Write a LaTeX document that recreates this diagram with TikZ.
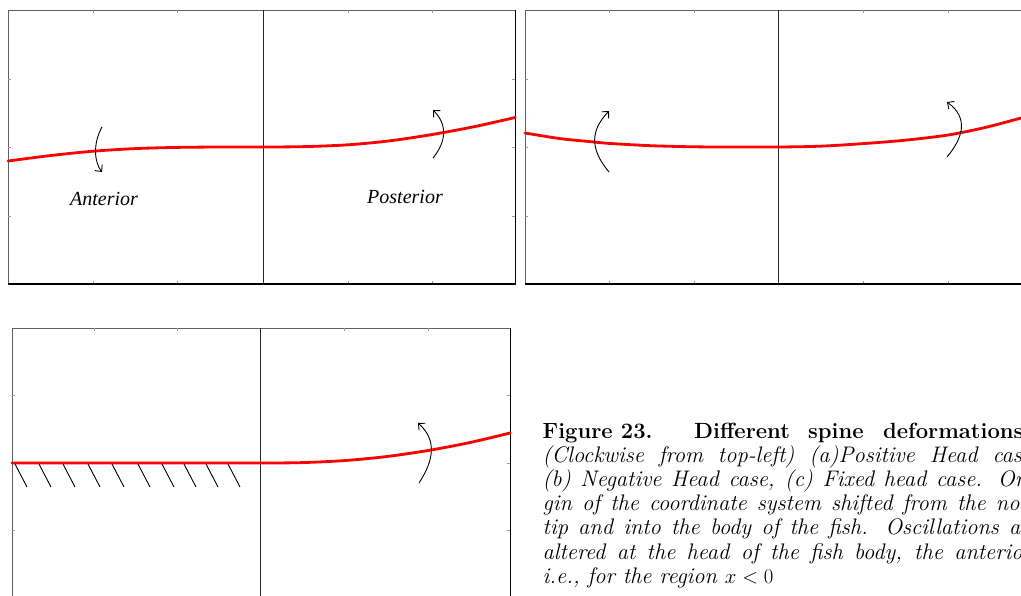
\documentclass[tikz,border=0pt]{standalone}
\usepackage{fontspec}
\newfontfamily\timesfont{Liberation Serif}
\usetikzlibrary{arrows.meta}
\begin{document}
\begin{tikzpicture}[x=1pt,y=-1pt,
  frame/.style={draw=black!62, line width=0.8pt},
  axisline/.style={draw=black, line width=1.3pt},
  midline/.style={draw=black!85, line width=0.9pt},
  tick/.style={draw=black!40, line width=0.8pt},
  spine/.style={draw=red, line width=2.8pt, line cap=round},
  flex/.style={draw=black, line width=0.9pt, -{Straight Barb[length=5pt,width=9.5pt,line width=0.9pt]}},
  hatchline/.style={draw=black, line width=0.9pt},
  lbl/.style={font=\timesfont\itshape\fontsize{20}{22}\selectfont, inner sep=0pt},
  capbold/.style={anchor=base west, inner sep=0pt, font=\fontsize{22}{24.2}\selectfont\bfseries},
  capline/.style={anchor=base west, inner sep=0pt, font=\fontsize{22.5}{24.2}\selectfont\itshape}
]
\useasboundingbox (0,0) rectangle (1021,595);
\fill[white] (0,0) rectangle (1021,595);

% ---------- Panel A ----------
\draw[frame] (8,284) -- (8,10) -- (515,10);
\draw[draw=black, line width=0.9pt] (515,10) -- (515,284);
\foreach \x in {93,177,348,432} {\draw[tick] (\x,10) -- (\x,13); \draw[tick] (\x,284) -- (\x,281);}
\foreach \y in {79,147,216} {\draw[tick] (8,\y) -- (11,\y); \draw[tick] (515,\y) -- (512,\y);}
\draw[midline] (263,10) -- (263,284);
\draw[axisline] (7.5,284) -- (515.5,284);
\draw[spine] plot[smooth] coordinates {(8,161) (50,155.6) (93,151.2) (135,148.6) (177,147.4) (220,147) (263,147) (305,146.6) (348,144.8) (390,140.8) (432,134.5) (475,126.5) (515,117.5)};
\draw[flex] (102,127) .. controls (93,143) and (94,162) .. (102,172);
\draw[flex] (433,158) .. controls (446,142) and (448,125) .. (433,110);
\node[lbl] (ant) at (104,199) {Anterior};
\node[lbl] (post) at (405,197) {Posterior};

% ---------- Panel B ----------
\draw[frame] (525,284) -- (525,10) -- (1025,10);
\foreach \x in {609,694,863,948} {\draw[tick] (\x,10) -- (\x,13); \draw[tick] (\x,284) -- (\x,281);}
\foreach \y in {79,147,216} {\draw[tick] (525,\y) -- (528,\y);}
\draw[midline] (778,10) -- (778,284);
\draw[axisline] (524.5,284) -- (1025,284);
\draw[spine] plot[smooth] coordinates {(525,133) (560,138.6) (593,141.9) (609,143.4) (651,145.7) (694,146.8) (736,147) (778,147) (820,146.2) (863,143.6) (905,140.2) (948,135) (985,127.5) (1021,118)};
\draw[flex] (609,172) .. controls (589,148) and (591,130) .. (609,111);
\draw[flex] (947,157) .. controls (963,138) and (969,118) .. (947,102);

% ---------- Panel C ----------
\draw[frame] (12,602) -- (12,328) -- (510,328);
\draw[draw=black, line width=0.9pt] (510,328) -- (510,602);
\foreach \x in {94,177,344,428} {\draw[tick] (\x,328) -- (\x,331);}
\foreach \y in {395,463,530} {\draw[tick] (12,\y) -- (15,\y); \draw[tick] (510,\y) -- (507,\y);}
\draw[midline] (260,328) -- (260,602);
\foreach \x in {15,39,63,88,112,138,162,184,206,228} {\draw[hatchline] (\x,464) -- (\x+12,487);}
\draw[spine] plot[smooth] coordinates {(12,463) (100,463) (180,463) (260,463) (302,462.6) (344,460.6) (386,456.6) (428,450.5) (470,442.5) (510,433)};
\draw[flex] (419,483) .. controls (434,460) and (437,440) .. (418,423);

% ---------- Caption ----------
\node[capbold] (c1a) at (542.5,438) {Figure 23.};
\node[capbold] (c1b) at (694,438) {Different};
\node[capbold] (c1c) at (808,438) {spine};
\node[capbold] (c1d) at (883,438) {deformations.};
\node[capline] (c2) at (542.5,462.2) {\hbox to 496pt{(Clockwise from top-left) (a)Positive Head case,}};
\node[capline] (c3) at (542.5,486.4) {\hbox to 496pt{(b) Negative Head case, (c) Fixed head case. Ori-}};
\node[capline] (c4) at (542.5,510.6) {\hbox to 496pt{gin of the coordinate system shifted from the nose}};
\node[capline] (c5) at (542.5,534.8) {\hbox to 496pt{tip and into the body of the fish. Oscillations are}};
\node[capline] (c6) at (542.5,559) {\hbox to 496pt{altered at the head of the fish body, the anterior,}};
\node[capline] (c7) at (542.5,583.2) {i.e., for the region $x<0$};
\end{tikzpicture}
\end{document}
